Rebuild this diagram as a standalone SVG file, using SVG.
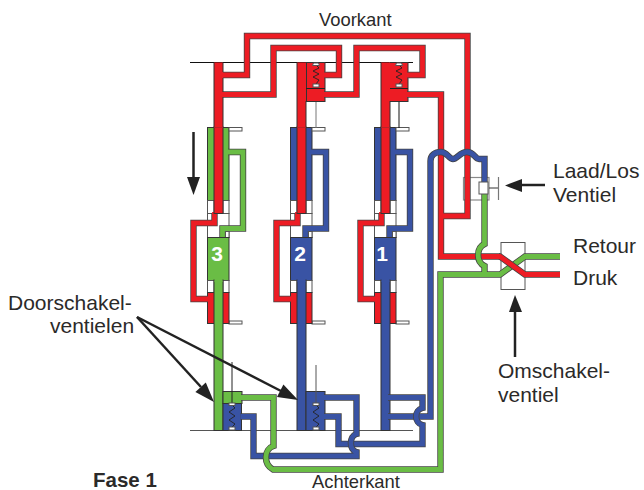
<svg xmlns="http://www.w3.org/2000/svg" xmlns:xlink="http://www.w3.org/1999/xlink" width="644" height="490" viewBox="0 0 644 490">
<style>
text{font-family:"Liberation Sans",Arial,sans-serif;fill:#2b2a29}
.lb{font-size:21px}.sm{font-size:18.4px}.fase{font-size:20.5px;font-weight:bold}
.num{font-size:21px;font-weight:bold;fill:#fff;text-anchor:middle}
.p{fill:none;stroke-linejoin:miter}
.cs{stroke:#444;stroke-width:6.4}
.r{stroke:#ed1c24;stroke-width:4.8}.g{stroke:#6abd45;stroke-width:4.8}.b{stroke:#3953a4;stroke-width:4.8}
.cur{stroke:currentColor;stroke-width:4.8}
.w{fill:#fff;stroke:#555;stroke-width:1}
.blk{stroke:#333;stroke-width:1}
.fc{fill:currentColor}.fr{fill:#ed1c24}.fb{fill:#3953a4}.fg{fill:#6abd45}
.thin{fill:none;stroke:#222;stroke-width:.9}
.ln{stroke:#111;stroke-width:1}
.ar{stroke:#222;stroke-width:2.5;fill:none}.hd{fill:#222}
</style>
<defs>
<g id="cyl">
<rect x="207.5" y="127.5" width="21.5" height="73" class="fc blk"/>
<rect x="229" y="127.5" width="13" height="3.5" class="w"/>
<rect x="229" y="321" width="13" height="3" class="w"/>
<rect x="207.5" y="200.5" width="6.5" height="13" class="w"/>
<rect x="223" y="200.5" width="6" height="13" class="w"/>
<rect x="207.5" y="213.5" width="21.5" height="24" class="w"/>
<path class="p cs" d="M228,152H243V228.5H222.5V238"/>
<path class="p cur" d="M228,152H243V228.5H222.5V238"/>
<rect x="225.500" y="231.500" width="3.500" height="6" class="w"/>
<rect x="207.5" y="237.5" width="21.5" height="43" class="fc blk"/>
<rect x="207.5" y="280.5" width="6.5" height="12" class="w"/>
<rect x="223" y="280.5" width="6" height="12" class="w"/>
<rect x="207.5" y="292.5" width="21.5" height="31" class="fr blk"/>
<rect x="214" y="280" width="9" height="150.5" class="fc blk"/>
<rect x="214.5" y="279" width="8" height="3" class="fc"/>
<path class="p cs" d="M214.5,213V223H193.5V299H208"/>
<path class="p r" d="M214.5,212V223H193.5V299H209"/>
<rect x="214" y="127" width="9" height="86.5" class="fr blk"/>
</g>
<g id="top-valve">
<rect x="306.5" y="62.5" width="18.5" height="39" class="fr blk"/>
<line x1="306" y1="88.5" x2="325" y2="88.5" stroke="#222" stroke-width="1"/>
<polyline class="thin" points="316,65 319,68 313,71 319,74 313,77 319,80 316,84"/>
<path d="M313.5,63h5l1,2.5h-7z" class="w"/>
<rect x="313" y="84" width="6" height="3" class="w"/>
</g>
<g id="bot-spring">
<polyline class="thin" points="316,405 319,408 313,412 319,416 313,420 319,424 316,427"/>
<rect x="313" y="403" width="6" height="2.5" class="w"/>
<rect x="313" y="427" width="6" height="3" class="w"/>
</g>
</defs>
<rect width="644" height="490" fill="#fff"/>
<g id="rails">
<line x1="190" y1="62.5" x2="413" y2="62.5" class="ln"/>
<line x1="190" y1="430.5" x2="413" y2="430.5" stroke="#555" stroke-width="1"/>
</g>
<g id="cylinder-3" color="#6abd45"><use href="#cyl"/><text x="217" y="261" class="num">3</text></g>
<g id="cylinder-2" color="#3953a4"><use href="#cyl" x="83"/><text x="300" y="261" class="num">2</text></g>
<g id="cylinder-1" color="#3953a4"><use href="#cyl" x="167"/><text x="382" y="261" class="num">1</text></g>
<g id="valve-top-2"><line x1="316" y1="87" x2="316" y2="128" stroke="#777" stroke-width="1"/><use href="#top-valve"/></g>
<g id="valve-top-1"><line x1="399" y1="87" x2="399" y2="128" stroke="#111" stroke-width="1"/><use href="#top-valve" x="83"/></g>
<g id="valve-bottom-3">
<rect x="223" y="391.5" width="19" height="12" class="fg blk"/>
<rect x="223" y="403.5" width="18.5" height="27" class="fb blk"/>
<line x1="232" y1="362" x2="232" y2="404" stroke="#222" stroke-width="1"/>
<use href="#bot-spring" x="-84"/>
</g>
<g id="valve-bottom-2">
<rect x="306" y="391.5" width="19" height="39" class="fb blk"/>
<line x1="316" y1="365" x2="316" y2="404" stroke="#555" stroke-width="1"/>
<use href="#bot-spring"/>
</g>
<g id="laad-los-ventiel">
<rect x="463.5" y="177.5" width="25.5" height="22.5" fill="none" stroke="#8a8a8a" stroke-width="1.2"/>
<line x1="489" y1="188" x2="498" y2="188" stroke="#333" stroke-width="1"/>
<line x1="498.5" y1="177" x2="498.5" y2="200" stroke="#777" stroke-width="1.2"/>
</g>
<g id="omschakel-ventiel">
<rect x="501" y="242.5" width="24" height="47" class="w"/>
</g>
<g id="connectors">
<path class="p cs" d="M222,75H247V36H467.5V216H441M324,94.5H356.5V48H422.5V75H407M222,94.5H273.5V48H339V75H324M407,94.5H441V256.5H500"/>
<path class="p r" d="M222,75H247V36H467.5V216H441M324,94.5H356.5V48H422.5V75H407M222,94.5H273.5V48H339V75H324M407,94.5H441V256.5H500"/>
<rect x="214" y="62.5" width="9" height="65" class="fr"/><rect x="297" y="62.5" width="9" height="65" class="fr"/><rect x="381" y="62.5" width="9" height="65" class="fr"/>
<path d="M214,62.5V127M223,62.5V72M223,78V92M223,97V127M297,62.5V127M306,101V127M381,62.5V127M390,101V127" stroke="#333" stroke-width="1" fill="none"/>
<path class="p cs" d="M388,416.5H430.5V161C430.5,155 435,152 441,152C447,152 449,159 453,159C457,159 460,152 467,152C474,152 475,159 479,159H484.5V182"/>
<path class="p b" d="M388,416.5H430.5V161C430.5,155 435,152 441,152C447,152 449,159 453,159C457,159 460,152 467,152C474,152 475,159 479,159H484.5V182"/>
<path class="p cs" d="M388,397.5H422.5V408C414,410 414,423 422.5,425V444H338.5V416.5H324"/>
<path class="p b" d="M388,397.5H422.5V408C414,410 414,423 422.5,425V444H338.5V416.5H324"/>
<path class="p cs" d="M324,397.5H356.5V434C349,436 349,450 356.5,452V456H253.5V416.5H240.5"/>
<path class="p b" d="M324,397.5H356.5V434C349,436 349,450 356.5,452V456H253.5V416.5H240.5"/>
<path class="p cs" d="M241,397.5H273.5V446C264,449 263,464 273,469.5H440.5V274.5H500L525,256.5H560M484.5,194V244C476,248 476,262 484.5,266V274"/>
<path class="p g" d="M241,397.5H273.5V446C264,449 263,464 273,469.5H440.5V274.5H500L525,256.5H560M484.5,194V244C476,248 476,262 484.5,266V274"/>
<path class="p cs" d="M499,256.5H500L525,274.5H560"/>
<path class="p r" d="M497,256.5H500L525,274.5H560"/>
<rect x="479" y="182" width="9" height="12" class="w"/>
</g>
<g id="arrows">
<path class="ar" d="M193.5,132V178"/><polygon class="hd" points="187,177 200,177 193.5,195"/>
<path class="ar" d="M522,185H545"/><polygon class="hd" points="505,185.500 522,179 522,192"/>
<path class="ar" d="M515,310V357"/><polygon class="hd" points="515,295 522,312 509,312"/>
<path class="ar" d="M137,317L201,387"/><polygon class="hd" points="214,402 205.8,382.5 195.4,391.9"/>
<path class="ar" d="M137,317L281,391"/><polygon class="hd" points="298,400 283.4,384.6 277,397"/>
</g>
<g id="labels">
<text x="319" y="26" class="sm">Voorkant</text>
<text x="553" y="178" class="lb">Laad/Los</text>
<text x="553" y="202" class="lb">Ventiel</text>
<text x="573" y="253" class="lb">Retour</text>
<text x="573" y="285" class="lb">Druk</text>
<text x="498" y="378" class="lb">Omschakel-</text>
<text x="498" y="402" class="lb">ventiel</text>
<text x="8" y="310" class="lb">Doorschakel-</text>
<text x="50" y="333" class="lb">ventielen</text>
<text x="93" y="487" class="fase">Fase 1</text>
<text x="312" y="487.5" class="sm">Achterkant</text>
</g>
</svg>
